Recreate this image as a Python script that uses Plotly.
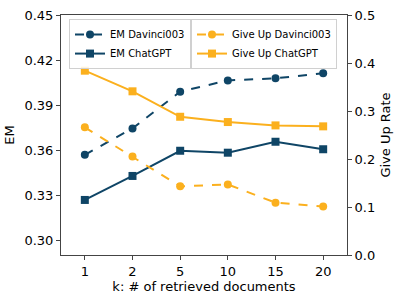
import plotly.graph_objects as go

k_labels = ["1", "2", "5", "10", "15", "20"]
em_davinci = [0.3568, 0.3744, 0.3989, 0.4064, 0.4078, 0.4111]
em_chatgpt = [0.3267, 0.3427, 0.3595, 0.3582, 0.3655, 0.3605]
giveup_davinci = [0.266, 0.205, 0.143, 0.147, 0.109, 0.101]
giveup_chatgpt = [0.384, 0.341, 0.288, 0.277, 0.270, 0.268]

NAVY = "#0f4566"
ORANGE = "#fbb01e"
FONT = "DejaVu Sans"

fig = go.Figure()
fig.add_trace(go.Scatter(x=k_labels, y=em_davinci, name="EM Davinci003", mode="lines+markers",
                         line=dict(color=NAVY, width=2, dash="dash"),
                         marker=dict(symbol="circle", size=8, color=NAVY), legend="legend"))
fig.add_trace(go.Scatter(x=k_labels, y=em_chatgpt, name="EM ChatGPT", mode="lines+markers",
                         line=dict(color=NAVY, width=2),
                         marker=dict(symbol="square", size=8, color=NAVY), legend="legend"))
fig.add_trace(go.Scatter(x=k_labels, y=giveup_davinci, name="Give Up Davinci003", mode="lines+markers",
                         line=dict(color=ORANGE, width=2, dash="dash"),
                         marker=dict(symbol="circle", size=8, color=ORANGE), yaxis="y2", legend="legend2"))
fig.add_trace(go.Scatter(x=k_labels, y=giveup_chatgpt, name="Give Up ChatGPT", mode="lines+markers",
                         line=dict(color=ORANGE, width=2),
                         marker=dict(symbol="square", size=8, color=ORANGE), yaxis="y2", legend="legend2"))

axis_common = dict(showline=True, linecolor="#444", linewidth=1, ticks="outside", ticklen=4,
                   tickcolor="#444", showgrid=False, zeroline=False, automargin=False,
                   tickfont=dict(family=FONT, size=13, color="black"))

legend_common = dict(bgcolor="rgba(255,255,255,0.85)", bordercolor="#d0d0d0", borderwidth=1,
                     font=dict(family=FONT, size=10, color="black"), yanchor="top",
                     tracegroupgap=0, itemwidth=30)

fig.update_layout(
    width=399, height=299,
    margin=dict(l=61, r=52, t=15, b=44),
    plot_bgcolor="white", paper_bgcolor="white",
    showlegend=True,
    xaxis=dict(**axis_common, type="category", range=[-0.5, 5.5], mirror=True,
               title=dict(text="k: # of retrieved documents", font=dict(family=FONT, size=13, color="black"),
                          standoff=2)),
    yaxis=dict(**axis_common, range=[0.29, 0.45], tickvals=[0.30, 0.33, 0.36, 0.39, 0.42, 0.45],
               tickformat=".2f",
               title=dict(text="EM", font=dict(family=FONT, size=13, color="black"), standoff=6)),
    yaxis2=dict(**axis_common, overlaying="y", side="right", range=[0, 0.5],
                tickvals=[0, 0.1, 0.2, 0.3, 0.4, 0.5], tickformat=".1f",
                title=dict(text="Give Up Rate", font=dict(family=FONT, size=13, color="black"), standoff=6)),
    legend=dict(**legend_common, x=0.028, y=0.983, xanchor="left"),
    legend2=dict(**legend_common, x=0.965, y=0.983, xanchor="right"),
)

fig.write_html("out.html", config={"displayModeBar": False},
               post_script="document.body.style.margin='0';")
